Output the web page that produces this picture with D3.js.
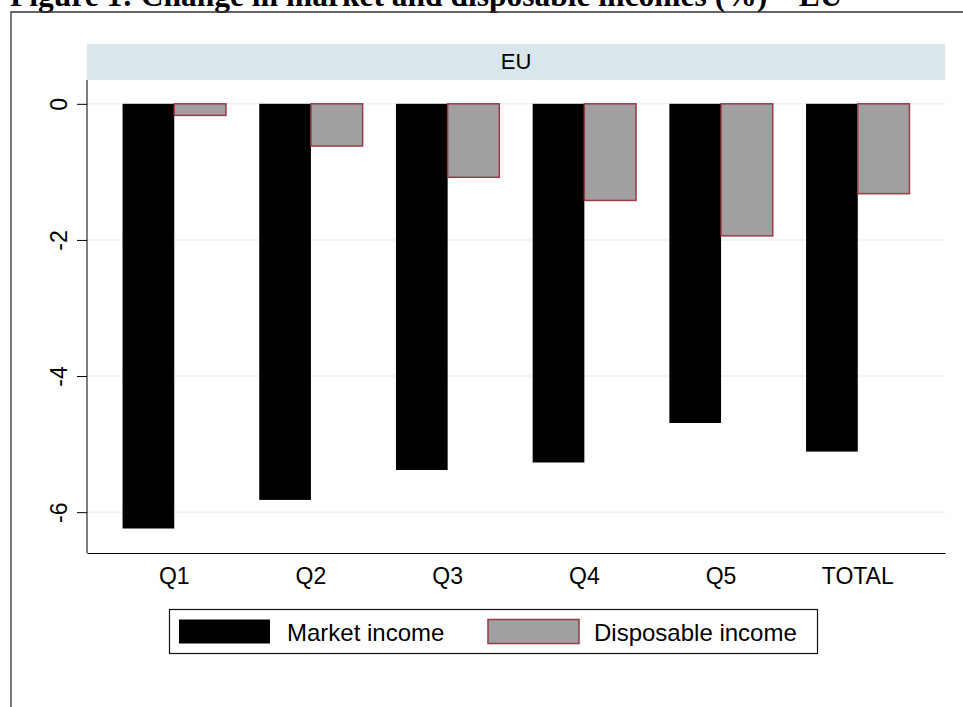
<!DOCTYPE html>
<html lang="en">
<head>
    <meta charset="UTF-8">
    <title>Change in market and disposable incomes - EU</title>
    <script src="https://d3js.org/d3.v7.min.js"></script>
    <style>
        body { margin: 0; background: #fff; }
    </style>
</head>
<body>

<script>
// data (% change)
var categories = ['Q1', 'Q2', 'Q3', 'Q4', 'Q5', 'TOTAL'];
var series = ['Market income', 'Disposable income'];
var marketIncome = [-6.24, -5.82, -5.38, -5.27, -4.69, -5.11];
var disposableIncome = [-0.17, -0.62, -1.08, -1.42, -1.94, -1.32];
var yTicks = [0, -2, -4, -6];

var width = 963, height = 707;

var svg = d3.select('body').append('svg')
    .attr('width', width)
    .attr('height', height);

// title, partly cut off at the top like the source image
svg.append('text')
    .attr('x', 10)
    .attr('y', 6)
    .style('font-family', '"Liberation Serif", "Times New Roman", serif')
    .style('font-weight', 'bold')
    .style('font-size', '31.5px')
    .text('Figure 1: Change in market and disposable incomes (%) \u2013 EU');

// outer frame (top and left edges visible)
svg.append('path')
    .attr('d', 'M11,' + height + 'V12H' + width)
    .attr('fill', 'none')
    .attr('stroke', '#333')
    .attr('stroke-width', 1.3);

var x0 = 87, x1 = 945, yTop = 80, yBot = 553;

var x = d3.scaleBand()
    .domain(categories)
    .range([x0, x1])
    .paddingInner(0.2436)
    .paddingOuter(0.26);

var xs = d3.scaleBand()
    .domain(series)
    .range([0, x.bandwidth()]);

var y = d3.scaleLinear()
    .domain([-6.6, 0.35])
    .range([yBot, yTop]);

// facet strip
svg.append('rect')
    .attr('x', x0)
    .attr('y', 44)
    .attr('width', x1 - x0)
    .attr('height', 36)
    .attr('fill', '#d9e6eb');

svg.append('text')
    .attr('x', (x0 + x1) / 2)
    .attr('y', 69)
    .attr('text-anchor', 'middle')
    .style('font-family', '"Liberation Sans", Arial, sans-serif')
    .style('font-size', '22px')
    .text('EU');

// gridlines
svg.append('g')
    .selectAll('line')
    .data(yTicks)
    .enter().append('line')
    .attr('x1', x0)
    .attr('x2', x1)
    .attr('y1', function(d) { return y(d); })
    .attr('y2', function(d) { return y(d); })
    .attr('stroke', '#eaf2f3')
    .attr('stroke-width', 1.5);

// bars
var rows = categories.map(function(c, i) {
    return {cat: c, values: [
        {key: series[0], v: marketIncome[i]},
        {key: series[1], v: disposableIncome[i]}
    ]};
});

var groups = svg.append('g')
    .selectAll('g')
    .data(rows)
    .enter().append('g')
    .attr('transform', function(d) { return 'translate(' + x(d.cat) + ',0)'; });

groups.selectAll('rect')
    .data(function(d) { return d.values; })
    .enter().append('rect')
    .attr('x', function(d) { return xs(d.key); })
    .attr('width', xs.bandwidth())
    .attr('y', function(d) { return y(0); })
    .attr('height', function(d) { return y(d.v) - y(0); })
    .attr('fill', function(d) { return d.key === series[0] ? '#000' : '#a0a0a0'; })
    .attr('stroke', function(d) { return d.key === series[0] ? 'none' : '#983a48'; })
    .attr('stroke-width', 1.5);

// y axis
var yAxis = svg.append('g')
    .attr('transform', 'translate(' + x0 + ',0)')
    .call(d3.axisLeft(y).tickValues(yTicks).tickSize(10).tickSizeOuter(0).tickFormat(d3.format('d')));

yAxis.select('.domain').remove();
yAxis.append('line')
    .attr('y1', yTop)
    .attr('y2', yBot)
    .attr('stroke', '#000');
yAxis.selectAll('.tick line').attr('stroke', '#000');
yAxis.selectAll('.tick text')
    .attr('x', null)
    .attr('dy', null)
    .attr('text-anchor', 'middle')
    .attr('transform', 'translate(-20.5,0) rotate(-90)')
    .style('font-family', '"Liberation Sans", Arial, sans-serif')
    .style('font-size', '23px')
    .attr('fill', '#000')
    .text(function(d) { return d === 0 ? '0' : '-' + Math.abs(d); });

// x axis
var xAxis = svg.append('g')
    .attr('transform', 'translate(0,' + yBot + ')')
    .call(d3.axisBottom(x).tickSize(0).tickSizeOuter(0));

xAxis.select('.domain').attr('stroke', '#000');
xAxis.selectAll('.tick text')
    .attr('y', 31)
    .attr('dy', null)
    .style('font-family', '"Liberation Sans", Arial, sans-serif')
    .style('font-size', '23px')
    .attr('fill', '#000');

// legend
var legend = svg.append('g');
legend.append('rect')
    .attr('x', 169.5)
    .attr('y', 609.5)
    .attr('width', 648)
    .attr('height', 44)
    .attr('fill', '#fff')
    .attr('stroke', '#111')
    .attr('stroke-width', 1.2);

var legendItems = [
    {key: series[0], sx: 179, tx: 287},
    {key: series[1], sx: 488, tx: 594}
];

legend.selectAll('rect.swatch')
    .data(legendItems)
    .enter().append('rect')
    .attr('class', 'swatch')
    .attr('x', function(d) { return d.sx; })
    .attr('y', 619.5)
    .attr('width', 91)
    .attr('height', 24)
    .attr('fill', function(d) { return d.key === series[0] ? '#000' : '#a0a0a0'; })
    .attr('stroke', function(d) { return d.key === series[0] ? 'none' : '#983a48'; })
    .attr('stroke-width', 1.5);

legend.selectAll('text')
    .data(legendItems)
    .enter().append('text')
    .attr('x', function(d) { return d.tx; })
    .attr('y', 640.5)
    .style('font-family', '"Liberation Sans", Arial, sans-serif')
    .style('font-size', '24px')
    .text(function(d) { return d.key; });
</script>

</body>
</html>
